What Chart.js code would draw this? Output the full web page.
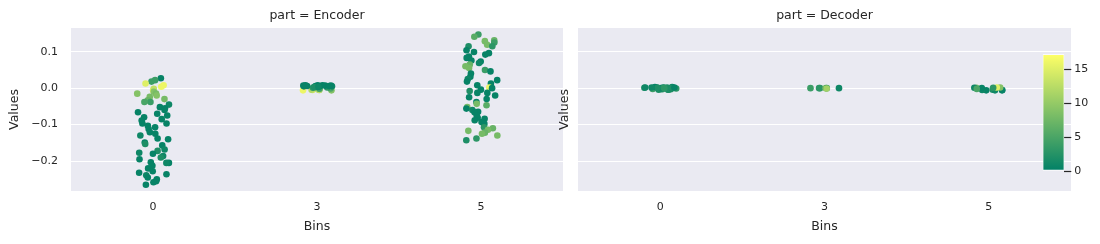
<!DOCTYPE html>
<html>
<head>
<meta charset="utf-8">
<script src="https://cdn.jsdelivr.net/npm/chart.js@4"></script>
<style>
  body { margin: 0; background: #fff; }
  #wrap { position: relative; width: 1100px; height: 244px; }
  canvas { position: absolute; top: 0; }
</style>
</head>
<body>
<div id="wrap">
  <canvas id="encoderChart" width="570" height="244" style="left:0px"></canvas>
  <canvas id="decoderChart" width="552" height="244" style="left:548px"></canvas>
  <canvas id="colorbar" width="70" height="150" style="left:1030px; top:40px"></canvas>
</div>
<script>
// Kategorijas un asis
const bins = ['0', '3', '5'];
const yTicks = [-0.2, -0.1, 0.0, 0.1];
const hueTicks = [0, 5, 10, 15];
const hueMin = 0;
const hueMax = 17.2;
const yMin = -0.282;
const yMax = 0.165;

// Encoder, bin 0
const enc0Values = [0.027, 0.022, 0.018, 0.013, 0.008, 0.004, -0.006, -0.002, -0.010, -0.015, -0.015, -0.020,
  -0.024, -0.030, -0.033, -0.038, -0.038, -0.045, -0.052, -0.055, -0.060, -0.066, -0.070, -0.075, -0.080,
  -0.085, -0.089, -0.097, -0.097, -0.103, -0.107, -0.112, -0.121, -0.125, -0.130, -0.138, -0.140, -0.149,
  -0.153, -0.157, -0.168, -0.172, -0.177, -0.180, -0.186, -0.190, -0.195, -0.203, -0.205, -0.205, -0.213,
  -0.220, -0.228, -0.232, -0.236, -0.239, -0.245, -0.250, -0.255, -0.258, -0.265];
const enc0Hue = [0.5, 4, 4, 15, 16, 16, 16, 13, 9, 9, 8, 9,
  8, 8, 7, 4, 5, 1, 0.5, 0.5, 0.5, 0.5, 0.5, 0.5, 0.5,
  0.5, 0.5, 0.5, 0.5, 0.5, 0.5, 0.5, 0.5, 0.5, 1, 0.5, 0.5, 0.5,
  2, 0.5, 1, 2, 1, 0.5, 1, 2, 0.5, 0.5, 0.5, 1, 0.5,
  0.5, 0.5, 0.5, 0.5, 1, 0.5, 0.5, 0.5, 0.5, 0.5];

// Encoder, bin 3
const enc3Values = [-0.006, -0.005, -0.004, -0.006, -0.003, -0.005, -0.004, -0.002, 0.000, 0.001, -0.001, 0.002,
  0.006, 0.007, 0.008, 0.005, 0.006, 0.007, 0.004, 0.008, 0.006, 0.005, 0.007, 0.003, 0.006, 0.005, 0.008, 0.004];
const enc3Hue = [16, 15, 12, 9, 8, 10, 14, 6, 4, 3, 5, 3,
  0.5, 0.5, 0.5, 1, 0.5, 0.5, 1, 0.5, 0.5, 1, 0.5, 2, 0.5, 0.5, 0.5, 1];

// Encoder, bin 5
const enc5Values = [0.147, 0.141, 0.131, 0.129, 0.125, 0.119, 0.115, 0.115, 0.104, 0.099, 0.096, 0.092, 0.087,
  0.083, 0.076, 0.073, 0.069, 0.065, 0.060, 0.055, 0.050, 0.046, 0.040, 0.031, 0.025, 0.022, 0.018, 0.013,
  0.008, 0.002, 0.000, -0.004, -0.008, -0.013, -0.013, -0.020, -0.025, -0.030, -0.038, -0.043, -0.047,
  -0.052, -0.056, -0.060, -0.065, -0.066, -0.075, -0.081, -0.084, -0.088, -0.093, -0.098, -0.107, -0.110,
  -0.114, -0.117, -0.122, -0.125, -0.130, -0.138, -0.143];
const enc5Hue = [4, 6, 7, 8, 4, 8, 2, 3, 0.5, 0.5, 0.5, 0.5, 0.5,
  0.5, 0.5, 0.5, 1, 7, 8, 8, 4, 0.5, 0.5, 0.5, 1, 0.5, 0.5, 0.5,
  0.5, 16, 0.5, 0.5, 2, 0.5, 0.5, 0.5, 0.5, 0.5, 0.5, 8, 6,
  8, 0.5, 1, 0.5, 0.5, 0.5, 0.5, 0.5, 0.5, 0.5, 0.5, 3, 7,
  8, 8, 7, 8, 8, 3, 2];

// Decoder, bin 0
const dec0Values = [-0.004, -0.003, -0.004, -0.002, -0.003, -0.004, -0.001, -0.002, 0.000, 0.001, 0.002, 0.001,
  0.002, 0.000, 0.003, 0.001, 0.002, -0.001, 0.002, 0.003, 0.001, 0.002, 0.000, 0.002];
const dec0Hue = [2, 3, 2, 4, 3, 2, 3, 2, 1, 2, 0.5, 3,
  2, 1, 0.5, 2, 1, 3, 2, 0.5, 2, 1, 3, 0.5];

// Decoder, bin 3
const dec3Values = [0.000, 0.000, 0.000, 0.000, 0.000, 0.000, -0.001];
const dec3Hue = [4, 3.5, 3, 1, 9, 3, 11];

// Decoder, bin 5
const dec5Values = [-0.006, -0.005, -0.006, -0.004, -0.005, -0.006, 0.001, 0.002, 0.001, 0.000, 0.002, 0.001, -0.002];
const dec5Hue = [0.5, 1, 0.5, 2, 0.5, 1, 8, 9, 1, 0.5, 15, 3, 5];

const textColor = '#262626';
const fontFamily = '"DejaVu Sans", sans-serif';

// matplotlib "summer" krāsu karte
function summer(h) {
    const t = Math.min(1, Math.max(0, (h - hueMin) / (hueMax - hueMin)));
    return `rgb(${Math.round(255 * t)}, ${Math.round(127.5 + 127.5 * t)}, 102)`;
}

// deterministisks "jitter" kategorijas iekšienē (kā stripplot)
function jitter(i, b) {
    const s = Math.sin((i + 1) * 12.9898 + (b + 1) * 78.233) * 43758.5453;
    return ((s - Math.floor(s)) - 0.5) * 0.2;
}

function buildPoints(groups) {
    const points = [];
    const colors = [];
    groups.forEach((g, b) => {
        g.values.forEach((v, i) => {
            points.push({ x: b + jitter(i, b), y: v });
            colors.push(summer(g.hue[i]));
        });
    });
    return { points, colors };
}

const plotBackground = {
    id: 'plotBackground',
    beforeDraw(chart) {
        const { ctx, chartArea: a } = chart;
        ctx.save();
        ctx.fillStyle = '#EAEAF2';
        ctx.fillRect(a.left, a.top, a.width, a.height);
        ctx.restore();
    }
};

function formatY(v) {
    if (Math.abs(v) < 1e-9) return '0.0';
    return (v < 0 ? '\u2212' : '') + Math.abs(v).toFixed(1);
}

function makeFacet(canvasId, titleText, groups, opts) {
    const { points, colors } = buildPoints(groups);
    return new Chart(document.getElementById(canvasId), {
        type: 'scatter',
        data: {
            datasets: [{
                data: points,
                pointBackgroundColor: colors,
                pointBorderWidth: 0,
                pointRadius: 3.3,
                pointHoverRadius: 3.3
            }]
        },
        plugins: [plotBackground],
        options: {
            responsive: false,
            animation: false,
            events: [],
            layout: { padding: { left: 0, right: opts.padRight, top: 0, bottom: 0 } },
            plugins: {
                legend: { display: false },
                tooltip: { enabled: false },
                title: {
                    display: true,
                    text: titleText,
                    fullSize: false,
                    color: textColor,
                    font: { family: fontFamily, size: 12.5, weight: 'normal' },
                    padding: { top: 8, bottom: 5 }
                }
            },
            scales: {
                x: {
                    type: 'linear',
                    min: -0.5,
                    max: 2.5,
                    afterBuildTicks: s => { s.ticks = bins.map((b, i) => ({ value: i })); },
                    afterFit: s => { s.height = 53; },
                    grid: { display: false, drawTicks: false },
                    border: { display: false },
                    ticks: {
                        padding: 10,
                        color: textColor,
                        font: { family: fontFamily, size: 11 },
                        callback: v => bins[v]
                    },
                    title: {
                        display: true,
                        text: 'Bins',
                        color: textColor,
                        font: { family: fontFamily, size: 12.5 },
                        padding: { top: 0, bottom: 10 }
                    }
                },
                y: {
                    min: yMin,
                    max: yMax,
                    afterBuildTicks: s => { s.ticks = yTicks.map(v => ({ value: v })); },
                    afterFit: s => { s.width = opts.yWidth; },
                    grid: { color: '#ffffff', lineWidth: 1, drawTicks: false },
                    border: { display: false },
                    ticks: {
                        display: opts.showYTicks,
                        padding: 13,
                        color: textColor,
                        font: { family: fontFamily, size: 11 },
                        callback: v => formatY(v)
                    },
                    title: {
                        display: true,
                        text: 'Values',
                        color: textColor,
                        font: { family: fontFamily, size: 12.5 },
                        padding: { top: opts.yTitlePad, bottom: 0 }
                    }
                }
            }
        }
    });
}

makeFacet('encoderChart', 'part = Encoder', [
    { values: enc0Values, hue: enc0Hue },
    { values: enc3Values, hue: enc3Hue },
    { values: enc5Values, hue: enc5Hue }
], { yWidth: 71, padRight: 7, showYTicks: true, yTitlePad: 7.5 });

makeFacet('decoderChart', 'part = Decoder', [
    { values: dec0Values, hue: dec0Hue },
    { values: dec3Values, hue: dec3Hue },
    { values: dec5Values, hue: dec5Hue }
], { yWidth: 30, padRight: 29, showYTicks: false, yTitlePad: 9.5 });

// Krāsu skala (colorbar)
new Chart(document.getElementById('colorbar'), {
    type: 'bar',
    data: {
        labels: [''],
        datasets: [{
            data: [hueMax],
            base: hueMin,
            categoryPercentage: 1,
            barPercentage: 1,
            borderColor: '#ffffff',
            borderWidth: 1,
            borderSkipped: false,
            backgroundColor: c => {
                const { ctx, chartArea } = c.chart;
                if (!chartArea) return summer(hueMax);
                const g = ctx.createLinearGradient(0, chartArea.bottom, 0, chartArea.top);
                g.addColorStop(0, summer(hueMin));
                g.addColorStop(1, summer(hueMax));
                return g;
            }
        }]
    },
    options: {
        responsive: false,
        animation: false,
        events: [],
        layout: { padding: { left: 12.7, right: 0, top: 14.3, bottom: 19 } },
        plugins: { legend: { display: false }, tooltip: { enabled: false } },
        scales: {
            x: { display: false },
            y: {
                position: 'right',
                min: hueMin,
                max: hueMax,
                afterBuildTicks: s => { s.ticks = hueTicks.map(v => ({ value: v })); },
                afterFit: s => { s.width = 35.7; },
                grid: { drawOnChartArea: false, drawTicks: true, tickLength: 7, tickColor: textColor, tickWidth: 1.2 },
                border: { display: false },
                ticks: {
                    padding: 3,
                    color: textColor,
                    font: { family: fontFamily, size: 11 }
                }
            }
        }
    }
});
</script>
</body>
</html>
